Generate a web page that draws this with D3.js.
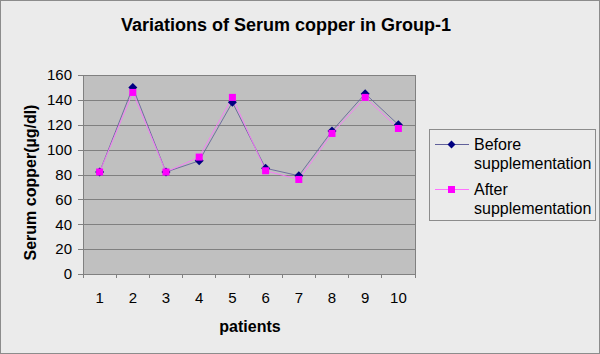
<!DOCTYPE html>
<html><head><meta charset="utf-8">
<script src="https://cdn.jsdelivr.net/npm/d3@7"></script>
<style>html,body{margin:0;padding:0;background:#ebebeb;}svg{display:block;font-family:"Liberation Sans",Arial,sans-serif;}</style>
</head><body>
<svg id="c" width="600" height="354"></svg>
<script>
const patients = ["1","2","3","4","5","6","7","8","9","10"];
const before = [82, 150, 82, 91, 138, 85, 79, 115, 145, 120];
const after = [82, 146, 82, 94, 142, 83, 76, 113, 142, 117];
const yTicks = [0, 20, 40, 60, 80, 100, 120, 140, 160];

const svg = d3.select("#c");
svg.append("rect").attr("x",0.5).attr("y",0.5).attr("width",599).attr("height",353)
  .attr("fill","#ebebeb").attr("stroke","#8c8c8c");

const L=83, R=415, T=75, B=274;
const x = d3.scaleBand().domain(patients).range([L,R]);
const y = d3.scaleLinear().domain([0,160]).range([B,T]);

svg.append("rect").attr("x",L).attr("y",T).attr("width",R-L).attr("height",B-T).attr("fill","#c0c0c0");

svg.append("g").selectAll("line").data(yTicks.filter(d=>d>0)).join("line")
  .attr("x1",L).attr("x2",R).attr("y1",d=>Math.round(y(d))+0.5).attr("y2",d=>Math.round(y(d))+0.5)
  .attr("stroke","#808080").attr("stroke-width",1);

svg.append("line").attr("x1",R+0.5).attr("x2",R+0.5).attr("y1",T).attr("y2",B+4).attr("stroke","#808080");

const ya = svg.append("g").attr("transform",`translate(${L},0)`)
  .call(d3.axisLeft(y).tickValues(yTicks).tickSize(5).tickPadding(6));
ya.selectAll("path,line").attr("stroke","#808080").attr("shape-rendering","crispEdges");
ya.selectAll("text").attr("font-size",15).attr("fill","#000").attr("font-family","Liberation Sans, Arial, sans-serif");

const xa = svg.append("g").attr("transform",`translate(0,${B})`);
xa.append("line").attr("x1",L).attr("x2",R).attr("stroke","#808080").attr("shape-rendering","crispEdges");
const bounds = patients.map(p=>x(p)).concat([R]);
xa.selectAll("line.t").data(bounds).join("line").attr("class","t")
  .attr("x1",d=>d).attr("x2",d=>d).attr("y1",0).attr("y2",4)
  .attr("stroke","#808080").attr("shape-rendering","crispEdges");
xa.selectAll("text").data(patients).join("text")
  .attr("x",d=>x(d)+x.bandwidth()/2).attr("y",29).attr("text-anchor","middle")
  .attr("font-size",15).attr("fill","#000").text(d=>d);

const cx = d=>x(d)+x.bandwidth()/2;

const line = d3.line().x((d,i)=>cx(patients[i])).y(d=>y(d));
svg.append("path").attr("d",line(before)).attr("fill","none").attr("stroke","#60609a").attr("stroke-width",1).attr("opacity",0.85);
svg.append("path").attr("d",line(after)).attr("fill","none").attr("stroke","#ff70ff").attr("stroke-width",1).attr("opacity",0.85);

const dia = "M0,-4.5L4.5,0L0,4.5L-4.5,0Z";
svg.append("g").selectAll("path").data(before).join("path")
  .attr("d",dia).attr("transform",(d,i)=>`translate(${cx(patients[i])},${y(d)})`).attr("fill","#000080");
svg.append("g").selectAll("rect").data(after).join("rect")
  .attr("x",(d,i)=>cx(patients[i])-3.5).attr("y",d=>y(d)-3.5).attr("width",7).attr("height",7).attr("fill","#ff00ff");

svg.append("text").attr("x",286).attr("y",31).attr("text-anchor","middle").attr("font-size",18).attr("font-weight","bold")
  .text("Variations of Serum copper in Group-1");
svg.append("text").attr("x",250).attr("y",332).attr("text-anchor","middle").attr("font-size",16).attr("font-weight","bold")
  .text("patients");
svg.append("text").attr("transform","translate(36,182.5) rotate(-90)").attr("text-anchor","middle").attr("font-size",16).attr("font-weight","bold")
  .text("Serum copper(µg/dl)");

const lg = svg.append("g");
lg.append("rect").attr("x",429.5).attr("y",129.5).attr("width",166).attr("height",91).attr("fill","#ebebeb").attr("stroke","#8c8c8c");
const entries = [{n:["Before","supplementation"], c:"#60609a", m:"d", y:144},{n:["After","supplementation"], c:"#ff70ff", m:"s", y:189}];
entries.forEach(e=>{
  lg.append("line").attr("x1",435).attr("x2",469).attr("y1",e.y+0.5).attr("y2",e.y+0.5).attr("stroke",e.c).attr("stroke-width",1);
  if(e.m==="d") lg.append("path").attr("d","M0,-4L4,0L0,4L-4,0Z").attr("transform",`translate(451.5,${e.y+0.5})`).attr("fill","#000080");
  else lg.append("rect").attr("x",448).attr("y",e.y-3).attr("width",7).attr("height",7).attr("fill","#ff00ff");
  const t = lg.append("text").attr("x",474).attr("y",e.y+5.5).attr("font-size",16);
  t.append("tspan").attr("x",474).text(e.n[0]);
  t.append("tspan").attr("x",474).attr("dy",19.5).text(e.n[1]);
});
</script>
</body></html>
